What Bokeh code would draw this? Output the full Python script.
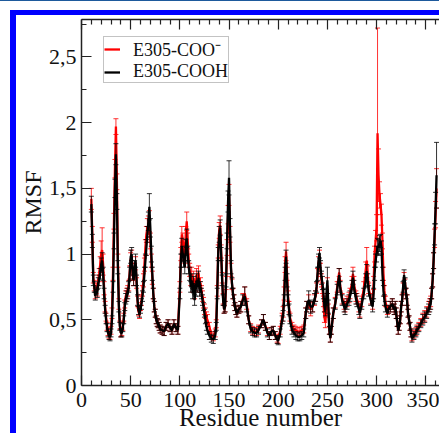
from bokeh.plotting import figure
from bokeh.models import (Range1d, LinearAxis, FixedTicker, Legend, LegendItem,
                          Div, Spacer)
from bokeh.layouts import column, row
from bokeh.embed import file_html
from bokeh.resources import INLINE

# ---------------- data ----------------
residue = [
    10, 11, 12, 13, 14, 15, 16, 17, 18, 19,
    20, 21, 22, 23, 24, 25, 26, 27, 28, 29,
    30, 31, 32, 33, 34, 35, 36, 37, 38, 39,
    40, 41, 42, 43, 44, 45, 46, 47, 48, 49,
    50, 51, 52, 53, 54, 55, 56, 57, 58, 59,
    60, 61, 62, 63, 64, 65, 66, 67, 68, 69,
    70, 71, 72, 73, 74, 75, 76, 77, 78, 79,
    80, 82, 84, 86, 88, 90, 92, 94, 96, 98,
    100, 101, 102, 103, 104, 105, 106, 107, 108, 109,
    110, 111, 112, 113, 114, 115, 116, 117, 118, 119,
    120, 121, 122, 123, 124, 125, 126, 127, 128, 130,
    132, 134, 136, 137, 138, 139, 140, 141, 142, 143,
    144, 145, 146, 147, 148, 149, 150, 151, 152, 153,
    154, 155, 156, 157, 158, 160, 162, 164, 166, 168,
    170, 172, 174, 176, 178, 180, 183, 185, 187, 189,
    191, 193, 195, 197, 199, 200, 202, 204, 205, 206,
    207, 208, 209, 210, 211, 212, 214, 216, 218, 220,
    222, 224, 226, 228, 229, 231, 233, 235, 237, 238,
    239, 240, 241, 242, 243, 244, 245, 246, 247, 248,
    249, 250, 251, 252, 253, 254, 256, 258, 260, 262,
    263, 265, 267, 268, 270, 272, 273, 275, 276, 277,
    279, 280, 282, 283, 285, 287, 289, 290, 291, 292,
    294, 296, 297, 298, 299, 300, 301, 302, 303, 304,
    305, 306, 307, 308, 309, 311, 312, 314, 316, 318,
    319, 320, 321, 322, 323, 324, 325, 326, 327, 328,
    329, 330, 331, 332, 333, 334, 335, 336, 338, 340,
    341, 343, 345, 347, 349, 351, 353, 354, 355, 356,
    357, 358, 359, 360, 361,
]

rmsf_cooh = [
    1.38, 1.10, 0.80, 0.75, 0.68, 0.72, 0.70, 0.78, 0.80, 0.85,
    0.92, 0.95, 0.85, 0.70, 0.58, 0.50, 0.44, 0.40, 0.38, 0.37,
    0.40, 0.50, 0.75, 1.10, 1.50, 1.76, 1.40, 0.90, 0.60, 0.45,
    0.40, 0.40, 0.44, 0.50, 0.60, 0.66, 0.68, 0.70, 0.75, 0.85,
    0.98, 1.00, 0.85, 0.80, 0.90, 0.95, 0.80, 0.65, 0.57, 0.55,
    0.58, 0.62, 0.68, 0.75, 0.85, 0.95, 1.05, 1.15, 1.25, 1.36,
    1.20, 1.00, 0.85, 0.70, 0.60, 0.55, 0.50, 0.48, 0.47, 0.45,
    0.43, 0.42, 0.41, 0.45, 0.47, 0.44, 0.42, 0.47, 0.44, 0.42,
    0.70, 0.95, 1.06, 1.00, 0.95, 0.90, 1.05, 1.12, 1.00, 0.90,
    0.85, 0.75, 0.80, 0.70, 0.78, 0.65, 0.72, 0.80, 0.75, 0.82,
    0.72, 0.75, 0.70, 0.65, 0.60, 0.55, 0.50, 0.45, 0.42, 0.38,
    0.36, 0.35, 0.38, 0.45, 0.70, 1.00, 1.15, 1.20, 1.00, 0.80,
    0.65, 0.58, 0.60, 0.80, 1.10, 1.40, 1.58, 1.20, 0.90, 0.78,
    0.70, 0.65, 0.60, 0.57, 0.55, 0.58, 0.60, 0.65, 0.68, 0.60,
    0.50, 0.43, 0.41, 0.40, 0.40, 0.42, 0.47, 0.50, 0.45, 0.40,
    0.38, 0.41, 0.42, 0.38, 0.35, 0.34, 0.40, 0.50, 0.53, 0.65,
    0.85, 0.98, 0.80, 0.65, 0.58, 0.50, 0.42, 0.40, 0.38, 0.37,
    0.37, 0.38, 0.40, 0.55, 0.60, 0.65, 0.60, 0.60, 0.66, 0.68,
    0.75, 0.85, 0.95, 1.01, 0.90, 0.82, 0.78, 0.70, 0.60, 0.57,
    0.68, 0.80, 0.60, 0.42, 0.36, 0.42, 0.55, 0.62, 0.73, 0.84,
    0.75, 0.65, 0.60, 0.58, 0.62, 0.65, 0.68, 0.75, 0.82, 0.75,
    0.66, 0.64, 0.58, 0.55, 0.62, 0.70, 0.80, 0.87, 0.80, 0.72,
    0.65, 0.60, 0.70, 0.85, 0.95, 1.00, 1.06, 1.05, 1.08, 1.10,
    1.05, 0.85, 0.72, 0.65, 0.60, 0.55, 0.58, 0.60, 0.62, 0.58,
    0.60, 0.55, 0.48, 0.42, 0.45, 0.50, 0.60, 0.65, 0.75, 0.84,
    0.78, 0.70, 0.65, 0.55, 0.50, 0.45, 0.40, 0.36, 0.38, 0.40,
    0.42, 0.44, 0.47, 0.50, 0.52, 0.55, 0.58, 0.60, 0.62, 0.70,
    0.80, 0.95, 1.15, 1.35, 1.60,
]

rmsf_coo = [
    1.42, 1.15, 0.82, 0.76, 0.70, 0.74, 0.72, 0.80, 0.84, 0.92,
    1.00, 1.03, 0.92, 0.74, 0.60, 0.52, 0.45, 0.41, 0.39, 0.38,
    0.42, 0.55, 0.85, 1.25, 1.65, 1.97, 1.55, 0.95, 0.62, 0.46,
    0.40, 0.41, 0.45, 0.52, 0.62, 0.68, 0.70, 0.72, 0.76, 0.86,
    0.96, 0.98, 0.84, 0.80, 0.88, 0.93, 0.78, 0.64, 0.56, 0.54,
    0.60, 0.65, 0.72, 0.80, 0.92, 1.05, 1.15, 1.20, 1.22, 1.25,
    1.10, 0.95, 0.82, 0.70, 0.60, 0.55, 0.50, 0.48, 0.47, 0.45,
    0.43, 0.42, 0.41, 0.45, 0.47, 0.44, 0.42, 0.47, 0.44, 0.42,
    0.75, 1.00, 1.15, 1.10, 1.02, 0.98, 1.15, 1.25, 1.10, 0.95,
    0.88, 0.80, 0.85, 0.75, 0.82, 0.70, 0.76, 0.84, 0.80, 0.86,
    0.75, 0.78, 0.72, 0.68, 0.63, 0.58, 0.55, 0.52, 0.50, 0.45,
    0.38, 0.37, 0.40, 0.47, 0.72, 1.02, 1.18, 1.22, 1.02, 0.82,
    0.66, 0.58, 0.60, 0.78, 1.05, 1.30, 1.45, 1.15, 0.88, 0.77,
    0.70, 0.65, 0.60, 0.57, 0.55, 0.58, 0.60, 0.66, 0.70, 0.62,
    0.50, 0.44, 0.42, 0.41, 0.41, 0.43, 0.47, 0.50, 0.45, 0.41,
    0.38, 0.41, 0.42, 0.38, 0.36, 0.35, 0.42, 0.52, 0.56, 0.70,
    0.92, 1.02, 0.85, 0.68, 0.60, 0.52, 0.45, 0.43, 0.42, 0.41,
    0.41, 0.42, 0.43, 0.55, 0.60, 0.64, 0.58, 0.60, 0.65, 0.68,
    0.74, 0.84, 0.93, 0.98, 0.88, 0.80, 0.74, 0.64, 0.52, 0.48,
    0.62, 0.76, 0.58, 0.42, 0.36, 0.42, 0.55, 0.63, 0.75, 0.86,
    0.76, 0.66, 0.62, 0.60, 0.64, 0.67, 0.70, 0.78, 0.85, 0.78,
    0.68, 0.66, 0.60, 0.56, 0.64, 0.74, 0.88, 0.95, 0.85, 0.74,
    0.66, 0.62, 0.78, 1.00, 1.10, 1.20, 1.92, 1.60, 1.45, 1.38,
    1.30, 1.10, 0.85, 0.72, 0.64, 0.57, 0.58, 0.60, 0.62, 0.58,
    0.60, 0.55, 0.48, 0.42, 0.45, 0.50, 0.60, 0.65, 0.74, 0.82,
    0.77, 0.70, 0.65, 0.55, 0.50, 0.45, 0.40, 0.37, 0.39, 0.41,
    0.43, 0.45, 0.48, 0.51, 0.53, 0.56, 0.60, 0.62, 0.64, 0.70,
    0.80, 0.95, 1.12, 1.30, 1.50,
]

err_cooh = [
    0.06, 0.05, 0.04, 0.04, 0.03, 0.03, 0.03, 0.04, 0.04, 0.04,
    0.05, 0.06, 0.05, 0.04, 0.03, 0.03, 0.03, 0.03, 0.03, 0.03,
    0.03, 0.03, 0.04, 0.06, 0.07, 0.08, 0.06, 0.05, 0.04, 0.03,
    0.03, 0.03, 0.03, 0.03, 0.03, 0.04, 0.04, 0.04, 0.04, 0.05,
    0.05, 0.05, 0.04, 0.04, 0.05, 0.05, 0.04, 0.04, 0.03, 0.03,
    0.03, 0.04, 0.04, 0.04, 0.05, 0.05, 0.06, 0.06, 0.07, 0.10,
    0.07, 0.06, 0.05, 0.04, 0.04, 0.03, 0.03, 0.03, 0.03, 0.03,
    0.03, 0.03, 0.03, 0.03, 0.03, 0.03, 0.03, 0.03, 0.03, 0.03,
    0.04, 0.05, 0.06, 0.06, 0.05, 0.05, 0.06, 0.07, 0.06, 0.05,
    0.05, 0.04, 0.05, 0.04, 0.05, 0.04, 0.04, 0.05, 0.04, 0.05,
    0.04, 0.04, 0.04, 0.04, 0.03, 0.03, 0.03, 0.03, 0.03, 0.03,
    0.03, 0.03, 0.03, 0.03, 0.04, 0.05, 0.06, 0.06, 0.05, 0.04,
    0.04, 0.03, 0.04, 0.05, 0.06, 0.08, 0.13, 0.07, 0.05, 0.04,
    0.04, 0.04, 0.03, 0.03, 0.03, 0.03, 0.04, 0.04, 0.07, 0.04,
    0.03, 0.03, 0.03, 0.03, 0.03, 0.03, 0.03, 0.04, 0.03, 0.03,
    0.03, 0.03, 0.03, 0.03, 0.03, 0.03, 0.03, 0.03, 0.04, 0.04,
    0.05, 0.05, 0.05, 0.04, 0.04, 0.03, 0.03, 0.03, 0.03, 0.03,
    0.03, 0.03, 0.03, 0.04, 0.04, 0.07, 0.05, 0.04, 0.04, 0.04,
    0.04, 0.05, 0.05, 0.04, 0.05, 0.05, 0.05, 0.04, 0.04, 0.04,
    0.05, 0.10, 0.05, 0.03, 0.03, 0.03, 0.04, 0.04, 0.04, 0.05,
    0.04, 0.04, 0.04, 0.04, 0.04, 0.04, 0.04, 0.05, 0.05, 0.05,
    0.04, 0.04, 0.04, 0.04, 0.04, 0.04, 0.05, 0.05, 0.05, 0.04,
    0.04, 0.04, 0.04, 0.05, 0.05, 0.06, 0.06, 0.06, 0.06, 0.05,
    0.05, 0.05, 0.04, 0.04, 0.04, 0.03, 0.03, 0.04, 0.04, 0.04,
    0.04, 0.04, 0.03, 0.03, 0.03, 0.03, 0.04, 0.04, 0.04, 0.04,
    0.04, 0.04, 0.04, 0.03, 0.03, 0.03, 0.03, 0.03, 0.03, 0.03,
    0.03, 0.03, 0.03, 0.04, 0.04, 0.04, 0.04, 0.04, 0.04, 0.04,
    0.05, 0.06, 0.08, 0.12, 0.25,
]

err_coo = [
    0.08, 0.06, 0.04, 0.04, 0.04, 0.04, 0.04, 0.04, 0.05, 0.06,
    0.10, 0.17, 0.08, 0.05, 0.04, 0.03, 0.03, 0.03, 0.03, 0.03,
    0.03, 0.04, 0.05, 0.06, 0.07, 0.06, 0.06, 0.05, 0.04, 0.03,
    0.03, 0.03, 0.03, 0.03, 0.03, 0.04, 0.04, 0.04, 0.04, 0.05,
    0.05, 0.05, 0.04, 0.04, 0.05, 0.05, 0.04, 0.04, 0.03, 0.03,
    0.03, 0.04, 0.04, 0.05, 0.05, 0.06, 0.06, 0.07, 0.07, 0.08,
    0.06, 0.05, 0.05, 0.04, 0.04, 0.03, 0.03, 0.03, 0.03, 0.03,
    0.03, 0.03, 0.03, 0.03, 0.03, 0.03, 0.03, 0.03, 0.03, 0.03,
    0.04, 0.05, 0.06, 0.06, 0.06, 0.05, 0.06, 0.07, 0.06, 0.05,
    0.05, 0.04, 0.05, 0.04, 0.05, 0.04, 0.04, 0.05, 0.04, 0.05,
    0.04, 0.04, 0.04, 0.04, 0.04, 0.04, 0.04, 0.04, 0.04, 0.03,
    0.03, 0.03, 0.03, 0.03, 0.04, 0.05, 0.06, 0.07, 0.05, 0.04,
    0.04, 0.03, 0.04, 0.05, 0.06, 0.07, 0.08, 0.06, 0.05, 0.04,
    0.04, 0.04, 0.03, 0.03, 0.03, 0.03, 0.04, 0.04, 0.05, 0.04,
    0.03, 0.03, 0.03, 0.03, 0.03, 0.03, 0.03, 0.04, 0.03, 0.03,
    0.03, 0.03, 0.03, 0.03, 0.03, 0.03, 0.03, 0.03, 0.04, 0.05,
    0.06, 0.07, 0.05, 0.04, 0.04, 0.03, 0.03, 0.03, 0.03, 0.03,
    0.03, 0.03, 0.03, 0.04, 0.04, 0.05, 0.05, 0.04, 0.04, 0.04,
    0.04, 0.05, 0.05, 0.05, 0.05, 0.05, 0.04, 0.04, 0.04, 0.04,
    0.04, 0.06, 0.04, 0.03, 0.03, 0.03, 0.04, 0.04, 0.04, 0.03,
    0.04, 0.04, 0.04, 0.04, 0.04, 0.04, 0.04, 0.05, 0.05, 0.05,
    0.04, 0.04, 0.04, 0.04, 0.04, 0.05, 0.06, 0.10, 0.06, 0.04,
    0.04, 0.04, 0.05, 0.06, 0.08, 0.10, 0.80, 0.20, 0.10, 0.08,
    0.08, 0.06, 0.05, 0.04, 0.04, 0.03, 0.03, 0.04, 0.04, 0.04,
    0.04, 0.04, 0.03, 0.03, 0.03, 0.03, 0.04, 0.04, 0.04, 0.04,
    0.04, 0.04, 0.04, 0.03, 0.03, 0.03, 0.03, 0.03, 0.03, 0.03,
    0.03, 0.03, 0.03, 0.04, 0.04, 0.04, 0.04, 0.04, 0.04, 0.04,
    0.05, 0.06, 0.07, 0.10, 0.15,
]

x_major = [0, 50, 100, 150, 200, 250, 300, 350]
x_minor = [10, 20, 30, 40, 60, 70, 80, 90, 110, 120, 130, 140, 160, 170, 180, 190,
           210, 220, 230, 240, 260, 270, 280, 290, 310, 320, 330, 340, 360]
y_major = [0, 0.5, 1.0, 1.5, 2.0, 2.5]
y_minor = [0.25, 0.75, 1.25, 1.75, 2.25, 2.75]
y_labels = ["0", "0,5", "1", "1,5", "2", "2,5"]
series_names = ["E305-COO\u207b", "E305-COOH"]
series_colors = ["#ff0000", "#000000"]

FONT = "Liberation Serif"

# ---------------- figure ----------------
p = figure(width=423, height=418, output_backend="svg", toolbar_location=None,
           x_range=Range1d(0, 364), y_range=Range1d(0, 2.785),
           min_border_left=61, min_border_right=0, min_border_top=4,
           min_border_bottom=48, x_axis_location=None, y_axis_location=None)
p.outline_line_color = None
p.grid.visible = False
p.background_fill_color = "white"
p.border_fill_color = "white"


def style_axis(ax):
    ax.axis_line_color = "#222222"
    ax.axis_line_width = 1.5
    ax.major_tick_in = 10
    ax.major_tick_out = 0
    ax.minor_tick_in = 5
    ax.minor_tick_out = 0
    ax.major_tick_line_color = "#222222"
    ax.minor_tick_line_color = "#222222"
    ax.major_tick_line_width = 1.2
    ax.minor_tick_line_width = 1.2
    ax.major_label_text_font = FONT
    ax.major_label_text_font_size = "22px"
    ax.major_label_text_color = "#111111"
    ax.axis_label_text_font = FONT
    ax.axis_label_text_font_style = "normal"
    ax.axis_label_text_color = "#111111"
    ax.axis_label_text_font_size = "24px"


xb = LinearAxis(ticker=FixedTicker(ticks=x_major, minor_ticks=x_minor),
                axis_label="Residue number")
style_axis(xb)
xb.axis_label_text_font_size = "25px"
xb.major_label_standoff = 7
xb.axis_label_standoff = -6
p.add_layout(xb, "below")

xt = LinearAxis(ticker=FixedTicker(ticks=x_major, minor_ticks=x_minor))
style_axis(xt)
xt.major_label_overrides = {t: "" for t in x_major}
xt.major_label_text_font_size = "1px"
xt.major_label_standoff = 0
p.add_layout(xt, "above")

yl = LinearAxis(ticker=FixedTicker(ticks=y_major, minor_ticks=y_minor),
                axis_label="RMSF")
style_axis(yl)
yl.major_label_overrides = {t: s for t, s in zip(y_major, y_labels)}
yl.major_label_standoff = 5
yl.axis_label_standoff = 0
p.add_layout(yl, "left")

# ---------------- data marks ----------------
renderers = []
for vals, errs, col in [(rmsf_coo, err_coo, series_colors[0]),
                        (rmsf_cooh, err_cooh, series_colors[1])]:
    lo = [v - e for v, e in zip(vals, errs)]
    hi = [v + e for v, e in zip(vals, errs)]
    p.segment(x0=residue, y0=lo, x1=residue, y1=hi, line_color=col,
              line_width=1, line_alpha=0.8)
    p.scatter(x=residue, y=hi, marker="dash", size=5, line_color=col,
              line_width=1, line_alpha=0.8)
    p.scatter(x=residue, y=lo, marker="dash", size=5, line_color=col,
              line_width=1, line_alpha=0.8)
    r = p.line(x=residue, y=vals, line_color=col, line_width=2.3)
    renderers.append(r)

legend = Legend(items=[LegendItem(label=series_names[0], renderers=[renderers[0]]),
                       LegendItem(label=series_names[1], renderers=[renderers[1]])],
                location=(22, 302))
legend.label_text_font = FONT
legend.label_text_font_size = "18px"
legend.label_text_color = "#111111"
legend.label_height = 18
legend.glyph_height = 18
legend.glyph_width = 16
legend.label_standoff = 13
legend.spacing = 0
legend.padding = 0
legend.margin = 0
legend.border_line_color = "#888888"
legend.border_line_width = 1.5
legend.background_fill_color = "white"
legend.background_fill_alpha = 1.0
p.add_layout(legend, "center")

# ---------------- page frame (blue rules of the source page) ----------------
top_rule = Div(text="", width=439, height=1, margin=0,
               styles={"background-color": "#1e5a9c"})
gap = Spacer(width=439, height=9, margin=0)
band_top = Div(text="", width=429, height=5, margin=0,
               styles={"background-color": "#0000ff"})
band_left = Div(text="", width=6, height=418, margin=0,
                styles={"background-color": "#0000ff"})
left_gap = Spacer(width=10, height=423, margin=0)

layout = column(top_rule, gap,
                row(left_gap,
                    column(band_top, row(band_left, p, spacing=0), spacing=0),
                    spacing=0),
                spacing=0)

open("out.html", "w").write(file_html(layout, INLINE))
